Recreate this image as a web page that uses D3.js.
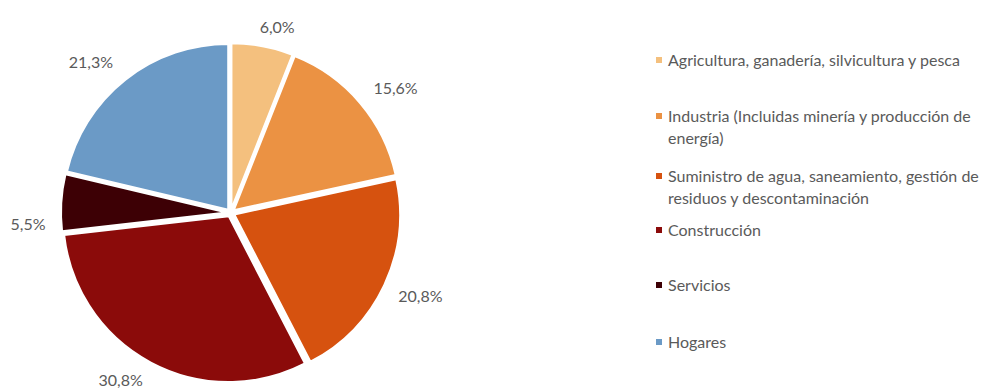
<!DOCTYPE html>
<html>
<head>
<meta charset="utf-8">
<script src="https://cdn.jsdelivr.net/npm/d3@7"></script>
<style>
  html, body { margin: 0; padding: 0; background: #fff; }
  svg { display: block; }
  text { font-family: "Lato", "Open Sans", sans-serif; fill: #5a5a5a; }
</style>
</head>
<body>
<svg id="chart" width="1003" height="392"></svg>
<script>
// Distribution by sector (%)
const categories = [
  "Agricultura, ganadería, silvicultura y pesca",
  "Industria (Incluidas minería y producción de energía)",
  "Suministro de agua, saneamiento, gestión de residuos y descontaminación",
  "Construcción",
  "Servicios",
  "Hogares"
];
const legendLines = [
  ["Agricultura, ganadería, silvicultura y pesca"],
  ["Industria (Incluidas minería y producción de", "energía)"],
  ["Suministro de agua, saneamiento, gestión de", "residuos y descontaminación"],
  ["Construcción"],
  ["Servicios"],
  ["Hogares"]
];
const values = [6.0, 15.6, 20.8, 30.8, 5.5, 21.3];
const valueLabels = ["6,0%", "15,6%", "20,8%", "30,8%", "5,5%", "21,3%"];
const colors = ["#F4C07E", "#EB9243", "#D6520F", "#8B0B0A", "#3D0005", "#6B9AC6"];

// Label placement around the pie: angular nudge (degrees) and distance from centre
const labelAngleShift = [3.2, 3.1, -1.6, 5.3, -6.5, -4.4];
const labelRadius = [192, 207, 207, 200, 203, 206];

const svg = d3.select("#chart");
const cx = 230.7, cy = 212.8, radius = 165.7, explode = 4;

const color = d3.scaleOrdinal().domain(categories).range(colors);
const pie = d3.pie().sort(null).value(d => d.value);
const arc = d3.arc().innerRadius(0).outerRadius(radius);

const data = categories.map((c, i) => ({ name: c, value: values[i], label: valueLabels[i] }));
const arcs = pie(data);

const g = svg.append("g").attr("transform", `translate(${cx},${cy})`);

g.selectAll("path.slice")
  .data(arcs)
  .join("path")
  .attr("class", "slice")
  .attr("d", arc)
  .attr("fill", d => color(d.data.name))
  .attr("stroke", "#fff")
  .attr("stroke-width", 2)
  .attr("transform", d => {
    const a = (d.startAngle + d.endAngle) / 2;
    return `translate(${Math.sin(a) * explode},${-Math.cos(a) * explode})`;
  });

const labelAngle = (d, i) => (d.startAngle + d.endAngle) / 2 + labelAngleShift[i] * Math.PI / 180;

g.selectAll("text.val")
  .data(arcs)
  .join("text")
  .attr("class", "val")
  .attr("x", (d, i) => Math.sin(labelAngle(d, i)) * labelRadius[i])
  .attr("y", (d, i) => -Math.cos(labelAngle(d, i)) * labelRadius[i])
  .attr("text-anchor", "middle")
  .attr("dominant-baseline", "central")
  .style("font-size", "16px")
  .text(d => d.data.label);

// Legend
const legendY = [59, 115, 175, 229, 284, 341];
const lineGap = 22;
const items = svg.append("g").selectAll("g.item")
  .data(categories)
  .join("g")
  .attr("class", "item")
  .attr("transform", (d, i) => `translate(656,${legendY[i]})`);

items.append("rect")
  .attr("x", 0).attr("y", -2)
  .attr("width", 6).attr("height", 6)
  .attr("fill", d => color(d));

items.each(function(d, i) {
  const t = d3.select(this).append("text")
    .style("font-size", "16px");
  legendLines[i].forEach((line, j) => {
    t.append("tspan")
      .attr("x", 12)
      .attr("y", j * lineGap)
      .attr("dominant-baseline", "central")
      .text(line);
  });
});
</script>
</body>
</html>
